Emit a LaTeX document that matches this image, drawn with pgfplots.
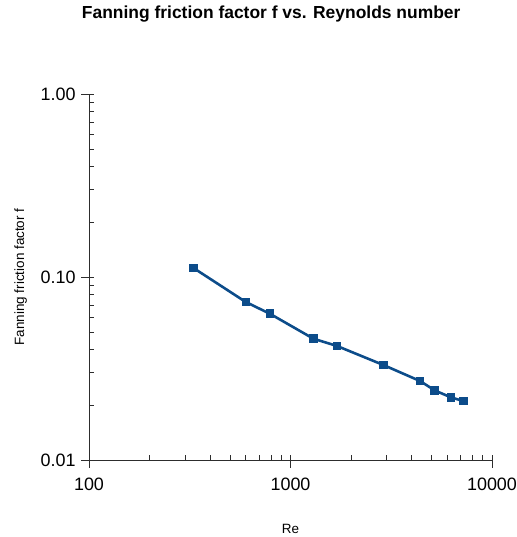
\documentclass[border=0pt]{standalone}
\usepackage{fontspec}
\setmainfont{Liberation Sans}
\usepackage{pgfplots}
\pgfplotsset{compat=1.18}
\definecolor{fline}{RGB}{12,76,138}
\definecolor{axgray}{RGB}{45,45,45}
\begin{document}
\begin{tikzpicture}[x=1bp,y=1bp]
\path[use as bounding box] (-89,-77) rectangle (428,460);
\begin{axis}[
  at={(0,0)}, anchor=south west,
  scale only axis, width=403bp, height=366bp,
  xmode=log, ymode=log,
  xmin=100, xmax=10000, ymin=0.01, ymax=1,
  axis x line=bottom, axis y line=left,
  axis line style={-, axgray, line width=0.8pt},
  xtick={100,1000,10000}, xticklabels={100,1000,10000},
  ytick={0.01,0.1,1}, yticklabels={0.01,0.10,1.00},
  tick style={axgray, line width=0.7pt},
  tick align=inside, major tick length=5bp, minor tick length=5bp,
  extra x ticks={100,1000,10000}, extra x tick labels={,,},
  extra y ticks={0.01,0.1,1}, extra y tick labels={,,},
  extra tick style={tick align=outside, major tick length=8bp},
  ticklabel style={font=\fontsize{18}{18}\selectfont, text=black},
  xticklabel style={yshift=-14bp},
  yticklabel style={xshift=-10bp},
  xlabel={Re}, ylabel={Fanning friction factor f},
  label style={font=\fontsize{13.5}{13.5}\selectfont},
  xlabel style={at={(axis description cs:0.5,0)}, anchor=base, yshift=-73bp},
  ylabel style={at={(axis description cs:0,0.5)}, anchor=base, yshift=65bp},
  title={\textbf{Fanning friction factor f vs. Reynolds number}},
  title style={font=\fontsize{17.5}{17.5}\selectfont, at={(axis description cs:0.452,1)}, anchor=base, yshift=70bp},
]
\addplot[fline, line width=2.6pt, mark=square*, mark size=3bp, mark options={solid}] coordinates {
  (330,0.112) (600,0.073) (790,0.063) (1300,0.046) (1700,0.042)
  (2900,0.033) (4400,0.027) (5200,0.024) (6250,0.022) (7200,0.021)
};
\end{axis}
\end{tikzpicture}
\end{document}
